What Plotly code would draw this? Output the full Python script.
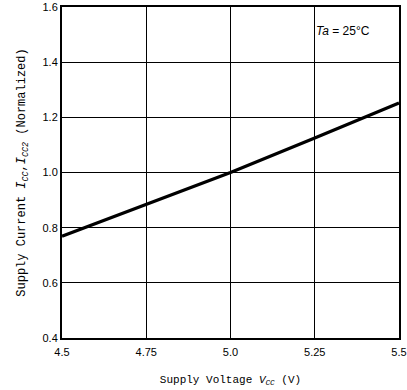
import plotly.graph_objects as go

# Supply voltage (V) and normalized supply current
vcc = [4.5, 4.75, 5.0, 5.25, 5.5]
icc_norm = [0.769, 0.883, 1.0, 1.125, 1.252]

x_ticks = [4.5, 4.75, 5.0, 5.25, 5.5]
x_tick_text = ["4.5", "4.75", "5.0", "5.25", "5.5"]
y_ticks = [0.4, 0.6, 0.8, 1.0, 1.2, 1.4, 1.6]
y_tick_text = ["0.4", "0.6", "0.8", "1.0", "1.2", "1.4", "1.6"]

tick_font = dict(family="Liberation Sans", size=11, color="black")
title_font = dict(family="Liberation Mono", size=11, color="black")

fig = go.Figure()
fig.add_trace(go.Scatter(
    x=vcc, y=icc_norm, mode="lines",
    line=dict(color="black", width=3.2),
    showlegend=False, hoverinfo="skip",
))

fig.add_annotation(
    x=0.92, y=0.955, xref="paper", yref="paper",
    text="<i>Ta</i> = 25°C", showarrow=False,
    font=dict(family="Liberation Sans", size=12, color="black"),
)

fig.update_xaxes(
    range=[4.5, 5.5], tickvals=x_ticks, ticktext=x_tick_text,
    showgrid=True, gridcolor="black", gridwidth=1.3,
    showline=True, linecolor="black", linewidth=2, mirror=True,
    ticks="", tickfont=tick_font, zeroline=False, automargin=False,
    ticklabelstandoff=3,
    title=dict(text="Supply Voltage <i>V<sub>CC</sub></i> (V)", font=title_font, standoff=18),
)
fig.update_yaxes(
    range=[0.4, 1.6], tickvals=y_ticks, ticktext=y_tick_text,
    showgrid=True, gridcolor="black", gridwidth=1.3,
    showline=True, linecolor="black", linewidth=2, mirror=True,
    ticks="", tickfont=tick_font, zeroline=False, automargin=False,
    title=dict(text="Supply Current <i>I<sub>CC</sub></i>,<i>I<sub>CC2</sub></i> (Normalized)",
               font=dict(family="Liberation Mono", size=12, color="black"), standoff=14),
)

fig.update_layout(
    width=407, height=390,
    margin=dict(l=62, r=8, t=7, b=52),
    plot_bgcolor="white", paper_bgcolor="white",
)

fig.write_html("out.html")
